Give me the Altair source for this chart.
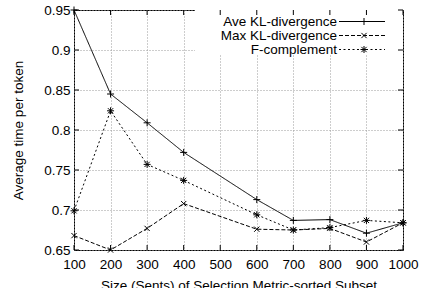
import altair as alt
import pandas as pd

sizes = [100, 200, 300, 400, 600, 700, 800, 900, 1000]
ave_kl = [0.950, 0.845, 0.809, 0.772, 0.713, 0.687, 0.688, 0.671, 0.684]
max_kl = [0.668, 0.650, 0.677, 0.708, 0.676, 0.675, 0.677, 0.660, 0.684]
f_comp = [0.699, 0.824, 0.757, 0.737, 0.694, 0.675, 0.678, 0.687, 0.684]
series_names = ["Ave KL-divergence", "Max KL-divergence", "F-complement"]
x_ticks = [100, 200, 300, 400, 500, 600, 700, 800, 900, 1000]
y_ticks = [0.65, 0.7, 0.75, 0.8, 0.85, 0.9, 0.95]

FONT = "Liberation Sans"
W, H = 329, 240

rows = []
for name, vals in zip(series_names, [ave_kl, max_kl, f_comp]):
    for s, v in zip(sizes, vals):
        rows.append({"series": name, "size": s, "value": v})
df = pd.DataFrame(rows)

PLUS = "M-1,0L1,0M0,-1L0,1"
CROSS = "M-0.75,-0.75L0.75,0.75M-0.75,0.75L0.75,-0.75"
STAR = PLUS + CROSS
shapes = [PLUS, CROSS, STAR]
dashes = [[1, 0], [4, 2], [2, 2.5]]

xs = alt.Scale(domain=[100, 1000], nice=False, zero=False)
ys = alt.Scale(domain=[0.65, 0.95], nice=False, zero=False)

x_axis = alt.Axis(
    values=x_ticks, format="d", title="Size (Sents) of Selection Metric-sorted Subset",
    grid=True, gridDash=[1, 2], gridColor="#9a9a9a", ticks=False, domain=False,
    labelOverlap=False, labelFlush=False,
    labelFont=FONT, labelFontSize=13.5, labelColor="black", labelPadding=7,
    titleFont=FONT, titleFontSize=13.5, titleFontWeight="normal", titleColor="black",
    titlePadding=8)
y_axis = alt.Axis(
    values=y_ticks, format="~g", title="Average time per token",
    grid=True, gridDash=[1, 2], gridColor="#9a9a9a", ticks=False, domain=False,
    labelOverlap=False, labelFlush=False,
    labelFont=FONT, labelFontSize=13.5, labelColor="black", labelPadding=4,
    titleFont=FONT, titleFontSize=13.5, titleFontWeight="normal", titleColor="black",
    titlePadding=18)

base = alt.Chart(df)
lines = base.mark_line(color="black", strokeWidth=1).encode(
    x=alt.X("size:Q", scale=xs, axis=x_axis), y=alt.Y("value:Q", scale=ys, axis=y_axis),
    strokeDash=alt.StrokeDash("series:N", scale=alt.Scale(domain=series_names, range=dashes), legend=None),
)
points = base.mark_point(filled=False, color="black", strokeWidth=1, size=49, opacity=1).encode(
    x=alt.X("size:Q", scale=xs, axis=x_axis), y=alt.Y("value:Q", scale=ys, axis=y_axis),
    shape=alt.Shape("series:N", scale=alt.Scale(domain=series_names, range=shapes), legend=None),
)

one = pd.DataFrame({"k": [0]})
legend_bg = alt.Chart(one).mark_rect(color="white").encode(
    x=alt.value(121), x2=alt.value(W), y=alt.value(0), y2=alt.value(45))

xt = pd.DataFrame({"t": x_ticks})
yt = pd.DataFrame({"t": y_ticks})
tick_layers = []
for y0, y1 in [(H, H - 5), (0, 5)]:
    tick_layers.append(alt.Chart(xt).mark_rule(color="black", strokeWidth=1).encode(
        x=alt.X("t:Q", scale=xs, axis=x_axis), y=alt.value(y0), y2=alt.value(y1)))
for x0, x1 in [(0, 5), (W, W - 5)]:
    tick_layers.append(alt.Chart(yt).mark_rule(color="black", strokeWidth=1).encode(
        y=alt.Y("t:Q", scale=ys, axis=y_axis), x=alt.value(x0), x2=alt.value(x1)))

legend_layers = []
for i, name in enumerate(series_names):
    ry = 11.5 + 14 * i
    ld = pd.DataFrame({"name": [name]})
    legend_layers.append(alt.Chart(ld).mark_text(
        align="right", baseline="middle", font=FONT, fontSize=13.5, color="black").encode(
        text="name:N", x=alt.value(263), y=alt.value(ry)))
    legend_layers.append(alt.Chart(ld).mark_rule(color="black", strokeWidth=1, strokeDash=dashes[i]).encode(
        x=alt.value(265), x2=alt.value(311), y=alt.value(ry)))
    legend_layers.append(alt.Chart(ld).mark_point(
        shape=shapes[i], filled=False, color="black", strokeWidth=1, size=49, opacity=1).encode(
        x=alt.value(290), y=alt.value(ry)))

chart = alt.layer(lines, legend_bg, points, *tick_layers, *legend_layers).properties(
    width=W, height=H,
    autosize=alt.AutoSizeParams(type="none"),
    padding={"left": 74, "top": 10, "right": 19, "bottom": 38},
    background="white",
).configure_view(stroke="black", strokeWidth=1)

chart.save("out.html", embed_options={"renderer": "svg", "actions": False})
